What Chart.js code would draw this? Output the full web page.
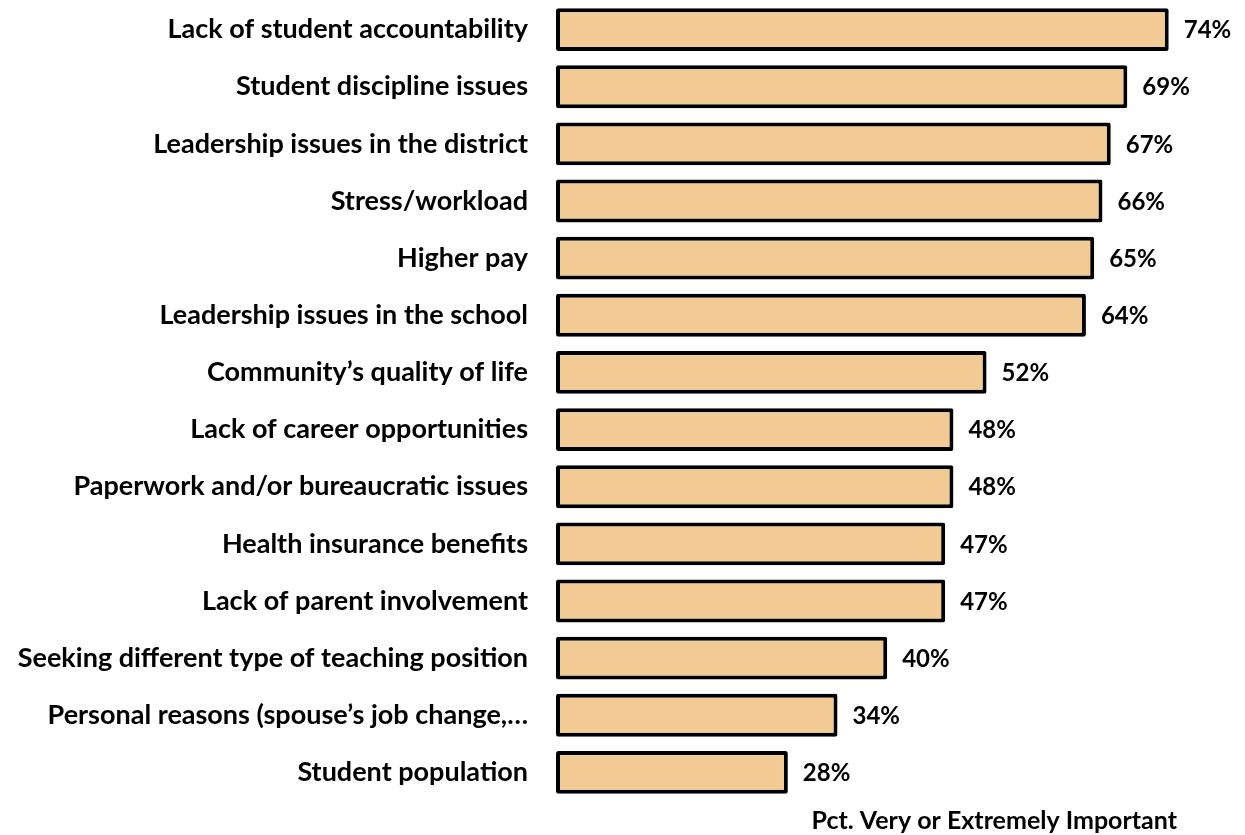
<!DOCTYPE html>
<html>
<head>
<meta charset="utf-8">
<script src="https://cdn.jsdelivr.net/npm/chart.js@4/dist/chart.umd.min.js"></script>
<style>
  html, body { margin: 0; padding: 0; background: #ffffff; }
  #wrap { width: 1245px; height: 835px; position: relative; }
</style>
</head>
<body>
<div id="wrap"><canvas id="chart"></canvas></div>
<script>
// Reasons rated very or extremely important (percent of respondents)
const reasons = [
  "Lack of student accountability",
  "Student discipline issues",
  "Leadership issues in the district",
  "Stress/workload",
  "Higher pay",
  "Leadership issues in the school",
  "Community\u2019s quality of life",
  "Lack of career opportunities",
  "Paperwork and/or bureaucratic issues",
  "Health insurance benefits",
  "Lack of parent involvement",
  "Seeking different type of teaching position",
  "Personal reasons (spouse\u2019s job change,\u2026",
  "Student population"
];
const pctImportant = [74, 69, 67, 66, 65, 64, 52, 48, 48, 47, 47, 40, 34, 28];
const axisTitle = "Pct. Very or Extremely Important";

const FONT = "Lato, 'Open Sans', sans-serif";

// Writes the percentage just past the end of each bar
const valueLabels = {
  id: 'valueLabels',
  afterDatasetsDraw(chart) {
    const ctx = chart.ctx;
    const meta = chart.getDatasetMeta(0);
    const data = chart.data.datasets[0].data;
    ctx.save();
    ctx.font = "bold 24px " + FONT;
    ctx.fillStyle = "#000000";
    ctx.textAlign = "left";
    ctx.textBaseline = "middle";
    meta.data.forEach((bar, i) => {
      ctx.fillText(data[i] + "%", bar.x + 15, bar.y + 1);
    });
    ctx.restore();
  }
};

new Chart(document.getElementById('chart'), {
  type: 'bar',
  data: {
    labels: reasons,
    datasets: [{
      data: pctImportant,
      backgroundColor: '#F2CA93',
      borderColor: '#000000',
      borderWidth: 4,
      borderRadius: 2,
      borderSkipped: false,
      categoryPercentage: 0.75,
      barPercentage: 1.0
    }]
  },
  options: {
    indexAxis: 'y',
    responsive: true,
    maintainAspectRatio: false,
    animation: false,
    layout: { padding: { top: 1, right: 68, bottom: 0, left: 0 } },
    plugins: {
      legend: { display: false },
      tooltip: { enabled: false }
    },
    scales: {
      x: {
        min: 0,
        max: 75,
        grid: { display: false, drawTicks: false },
        border: { display: false },
        ticks: { display: false },
        title: {
          display: true,
          text: axisTitle,
          align: 'end',
          color: '#000000',
          font: { family: FONT, size: 25, weight: 'bold', lineHeight: 1 },
          padding: { top: 7.5, bottom: 1.5 }
        }
      },
      y: {
        grid: { display: false, drawTicks: false },
        border: { display: false },
        ticks: {
          color: '#000000',
          padding: 28,
          font: { family: FONT, size: 27, weight: 'bold' }
        },
        afterFit(scale) {
          // fixed label column; the tick padding is only a horizontal gap
          scale.width = 556;
          scale.paddingTop = 0;
          scale.paddingBottom = 0;
        }
      }
    }
  },
  plugins: [valueLabels]
});
</script>
</body>
</html>
